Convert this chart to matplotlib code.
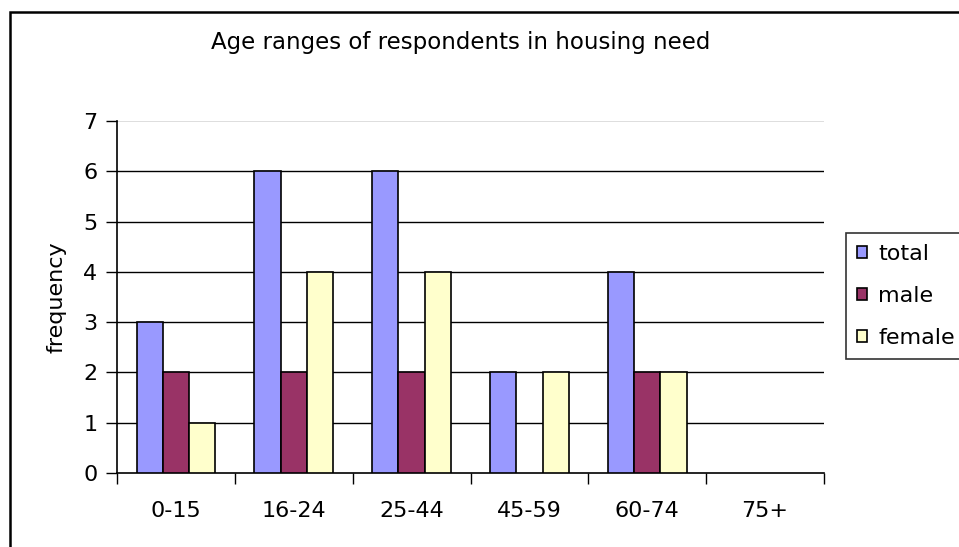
import matplotlib
matplotlib.use("Agg")
import matplotlib.pyplot as plt
from matplotlib.patches import Rectangle
import numpy as np

plt.rcParams['font.family'] = ['DejaVu Sans']

categories = ["0-15", "16-24", "25-44", "45-59", "60-74", "75+"]
total = [3, 6, 6, 2, 4, 0]
male = [2, 2, 2, 0, 2, 0]
female = [1, 4, 4, 2, 2, 0]
series = [("total", total, "#9999FF"), ("male", male, "#993366"), ("female", female, "#FFFFCC")]

W, H = 959, 547
fig = plt.figure(figsize=(W / 100, H / 100), dpi=100)

# outer chart frame (right and bottom edges run off the canvas)
fig.patches.append(Rectangle((10 / W, -0.5), 2.0, 1.5 - 12 / H, transform=fig.transFigure,
                             fill=False, edgecolor="black", linewidth=1.8, zorder=10))

ax = fig.add_axes([117 / W, 1 - 473 / H, (824 - 117) / W, (473 - 121) / H])

n = len(series)
bw = 1.0 / (n + 1.5)
x = np.arange(len(categories))
for i, (name, vals, col) in enumerate(series):
    offs = (i - (n - 1) / 2) * bw
    v = np.array(vals, dtype=float)
    v[v == 0] = np.nan  # empty categories draw no bar
    ax.bar(x + 0.5 + offs, v, width=bw, color=col, edgecolor="black", linewidth=1.2,
           label=name, zorder=3)

ax.set_xlim(0, len(categories))
ax.set_ylim(0, 7)
ax.set_yticks(range(8))
for yv in range(1, 7):
    ax.axhline(yv, color="black", linewidth=1.0, zorder=1)
ax.axhline(7, color="#d8d8d8", linewidth=1.2, zorder=1)

ax.set_xticks(np.arange(len(categories) + 1))
ax.set_xticklabels([])
ax.set_xticks(x + 0.5, minor=True)
ax.set_xticklabels(categories, minor=True, fontsize=16)
ax.tick_params(axis="x", which="minor", length=0, pad=20)
ax.tick_params(axis="x", which="major", length=8, width=1, direction="out")
ax.tick_params(axis="y", length=8, width=1, direction="out", labelsize=16, pad=6)

for s in ["top", "right"]:
    ax.spines[s].set_visible(False)
ax.spines["left"].set_linewidth(1.2)
ax.spines["bottom"].set_linewidth(1.2)

ax.set_ylabel("frequency", fontsize=16, labelpad=12)
fig.text(461 / W, 1 - 43 / H, "Age ranges of respondents in housing need",
         ha="center", va="center", fontsize=16.5)

leg = fig.legend(loc="upper left", bbox_to_anchor=(846 / W, 1 - 233 / H), fontsize=16,
                 frameon=True, fancybox=False, edgecolor="black", handlelength=0.45,
                 handleheight=0.45, handletextpad=0.5, borderpad=0.5, labelspacing=0.98,
                 borderaxespad=0)
leg.get_frame().set_linewidth(1.2)

fig.savefig("out.png", dpi=100)
